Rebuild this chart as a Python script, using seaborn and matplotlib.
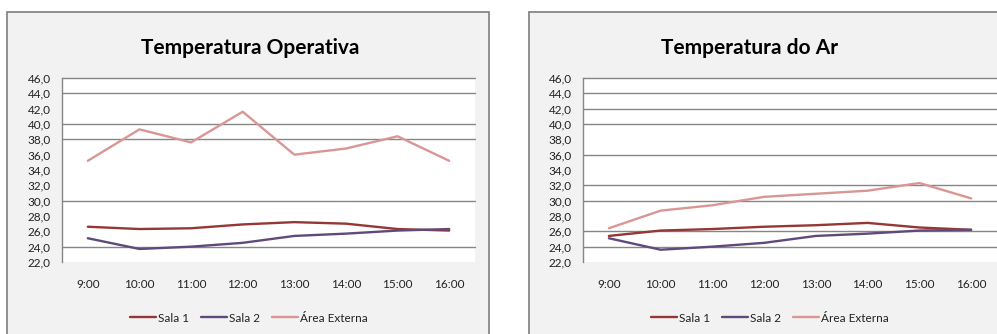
import matplotlib
matplotlib.use("Agg")
import matplotlib.pyplot as plt
import seaborn as sns
import pandas as pd
from matplotlib.patches import Rectangle
from matplotlib.ticker import FuncFormatter

# ---------------- data ----------------
hours = ["9:00", "10:00", "11:00", "12:00", "13:00", "14:00", "15:00", "16:00"]
series_names = ["Sala 1", "Sala 2", "Área Externa"]

# Temperatura Operativa
op_sala1 = [26.6, 26.3, 26.4, 26.9, 27.2, 27.0, 26.3, 26.1]
op_sala2 = [25.1, 23.7, 24.0, 24.5, 25.4, 25.7, 26.1, 26.3]
op_externa = [35.2, 39.3, 37.6, 41.6, 36.0, 36.8, 38.4, 35.2]

# Temperatura do Ar
ar_sala1 = [25.4, 26.1, 26.3, 26.6, 26.8, 27.1, 26.5, 26.2]
ar_sala2 = [25.1, 23.6, 24.0, 24.5, 25.4, 25.7, 26.1, 26.2]
ar_externa = [26.4, 28.7, 29.4, 30.5, 30.9, 31.3, 32.3, 30.3]

titles = ["Temperatura Operativa", "Temperatura do Ar"]
y_ticks = [22, 24, 26, 28, 30, 32, 34, 36, 38, 40, 42, 44, 46]
colors = ["#953735", "#604A7B", "#D99694"]

# ---------------- style ----------------
sns.set_theme(style="white")
plt.rcParams['font.family'] = ['Lato', 'DejaVu Sans']

W, H = 997, 334
fig = plt.figure(figsize=(W / 100, H / 100), dpi=100)
fig.patch.set_facecolor("white")


def fx(x):
    return x / W


def fy(y):
    return 1 - y / H


def long_df(s1, s2, s3):
    rows = []
    for name, vals in zip(series_names, [s1, s2, s3]):
        for h, v in zip(hours, vals):
            rows.append({"Hora": h, "Temperatura": v, "Série": name})
    return pd.DataFrame(rows)


# panels (chart areas)
panel_specs = [(7, 12, 489, 340), (528.5, 12, 1010, 340)]
for x0, y0, x1, y1 in panel_specs:
    fig.add_artist(Rectangle((fx(x0), fy(y1)), fx(x1 - x0), (y1 - y0) / H,
                             transform=fig.transFigure, facecolor="#f2f2f2",
                             edgecolor="#878787", lw=1.3, zorder=-5))

axes_specs = [(62, 78, 475, 262), (583, 78, 997, 262)]
grid_sets = [[24, 30, 38, 40, 44, 46], [24, 26, 30, 32, 36, 40, 42, 44, 46]]
title_x = [250, 750]
legend_x = [249, 770]
datasets = [(op_sala1, op_sala2, op_externa), (ar_sala1, ar_sala2, ar_externa)]

for i in range(2):
    x0, y0, x1, y1 = axes_specs[i]
    ax = fig.add_axes([fx(x0), fy(y1), fx(x1 - x0), (y1 - y0) / H])
    ax.set_facecolor("white")
    for g in grid_sets[i]:
        ax.axhline(g, color="#868686", lw=1.0, zorder=0.5, clip_on=False)
    df = long_df(*datasets[i])
    sns.lineplot(data=df, x="Hora", y="Temperatura", hue="Série",
                 palette=dict(zip(series_names, colors)), sort=False,
                 linewidth=1.7, ax=ax, legend=True, zorder=2)
    handles, labels = ax.get_legend_handles_labels()
    ax.get_legend().remove()

    ax.set_xlim(-0.5, len(hours) - 0.5)
    ax.set_ylim(22, 46)
    ax.set_yticks(y_ticks)
    ax.yaxis.set_major_formatter(FuncFormatter(lambda v, p: f"{v:.1f}".replace(".", ",")))
    ax.grid(False)
    ax.tick_params(axis="y", length=0, pad=8, labelsize=8.5, labelcolor="#222222")
    ax.tick_params(axis="x", length=0, pad=12, labelsize=8.5, labelcolor="#222222")
    ax.set_xlabel("")
    ax.set_ylabel("")
    for s in ["top", "right", "bottom"]:
        ax.spines[s].set_visible(False)
    ax.spines["left"].set_color("#868686")
    ax.spines["left"].set_linewidth(1.0)

    fig.text(fx(title_x[i]), fy(48), titles[i], ha="center", va="center",
             fontsize=15, fontweight="bold", color="black")
    fig.legend(handles, labels, loc="center", bbox_to_anchor=(fx(legend_x[i]), fy(318)),
               ncol=3, frameon=False, fontsize=8.5, handlelength=2.2,
               handletextpad=0.2, columnspacing=1.0, labelcolor="#222222")

fig.savefig("out.png", dpi=100, facecolor="white")
